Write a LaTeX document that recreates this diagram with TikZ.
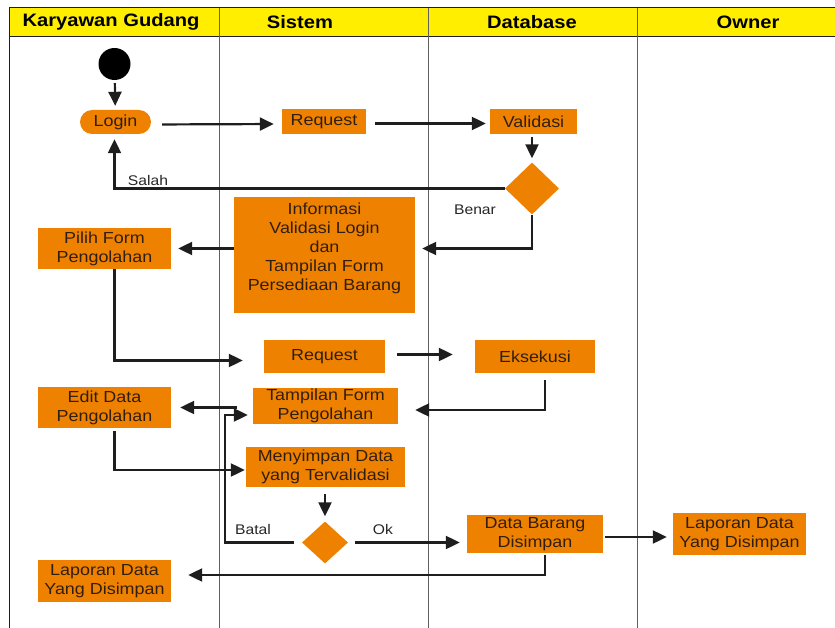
\documentclass[tikz,border=0pt]{standalone}
\usepackage{fontspec}
\setmainfont{Liberation Sans}[FakeStretch=1.12]
\usetikzlibrary{arrows.meta,shapes.geometric,calc}
\definecolor{orng}{RGB}{238,130,0}
\definecolor{hdr}{RGB}{255,238,0}
\definecolor{txtc}{RGB}{50,30,15}
\definecolor{lnc}{RGB}{30,30,30}
\definecolor{lanec}{RGB}{95,95,95}
\begin{document}
\begin{tikzpicture}[x=1pt,y=-1pt,
  box/.style={fill=orng, draw=none, text=txtc, font=\fontsize{16}{19}\selectfont, align=center, inner sep=0pt},
  dec/.style={diamond, fill=orng, draw=none, inner sep=0pt},
  flow/.style={draw=lnc, line width=2.2pt, -{Triangle[length=14pt,width=13pt]}},
  hd/.style={font=\bfseries\fontsize{18}{20}\selectfont, text=black, inner sep=0pt},
  lbl/.style={font=\fontsize{14}{16}\selectfont, text=black!85, inner sep=0pt},
  laneline/.style={draw=lanec, line width=1pt}]
\useasboundingbox (0,0) rectangle (835,628);
% header and lanes
\fill[hdr] (9,8) rectangle (835,37);
\draw[lnc, line width=1pt] (835,8) -- (9,8) -- (9,628);
\draw[lnc, line width=1pt] (9,37) -- (835,37);
\draw[laneline] (219,8) -- (219,628);
\draw[laneline] (428,8) -- (428,628);
\draw[laneline] (637,8) -- (637,628);
\node[hd] (h1) at (111,22) {Karyawan Gudang};
\node[hd] (h2) at (300,22) {Sistem};
\node[hd] (h3) at (532,22) {Database};
\node[hd] (h4) at (748,22) {Owner};
% nodes
\node[circle, fill=black, minimum size=32pt, inner sep=0pt] (start) at (114.5,64) {};
\node[box, rounded corners=12pt, minimum width=71pt, minimum height=24pt] (login) at (115.5,122) {Login};
\node[box, minimum width=84pt, minimum height=25pt] (req1) at (324,121.5) {Request};
\node[box, minimum width=87pt, minimum height=25pt] (val) at (533.5,121.5) {Validasi};
\node[dec, minimum width=54pt, minimum height=52pt] (dec1) at (532,188.5) {};
\node[box, minimum width=181pt, minimum height=116pt] (info) at (324.5,255) {Informasi\\Validasi Login\\dan\\Tampilan Form\\Persediaan Barang\\[-3pt]};
\node[box, minimum width=133pt, minimum height=41pt] (pilih) at (104.5,248.5) {Pilih Form\\Pengolahan};
\node[box, minimum width=121pt, minimum height=33pt] (req2) at (324.5,356.5) {Request};
\node[box, minimum width=120pt, minimum height=33pt] (eks) at (535,356.5) {Eksekusi};
\node[box, minimum width=145pt, minimum height=36pt] (tamp) at (325.5,406) {Tampilan Form\\Pengolahan};
\node[box, minimum width=133pt, minimum height=41pt] (edit) at (104.5,407.5) {Edit Data\\Pengolahan};
\node[box, minimum width=159pt, minimum height=40pt] (mny) at (325.5,467) {Menyimpan Data\\yang Tervalidasi};
\node[dec, minimum width=46pt, minimum height=42pt] (dec2) at (325,542.5) {};
\node[box, minimum width=136pt, minimum height=38pt] (datab) at (535,534) {Data Barang\\Disimpan};
\node[box, minimum width=133pt, minimum height=42pt] (lap2) at (739.5,534) {Laporan Data\\Yang Disimpan};
\node[box, minimum width=133pt, minimum height=42pt] (lap1) at (104.5,581) {Laporan Data\\Yang Disimpan};
% labels
\node[lbl] (salah) at (148,180) {Salah};
\node[lbl] (benar) at (475,210) {Benar};
\node[lbl] (batal) at (253,529) {Batal};
\node[lbl] (ok) at (383,529) {Ok};
% connectors
\draw[flow, shorten <=3pt, shorten >=4pt] (start) -- (login);
\draw[flow, shorten <=11pt, shorten >=8pt] ([yshift=-2.5pt]login.east) -- ([yshift=-2.5pt]req1.west);
\draw[flow, shorten <=9pt, shorten >=4pt] ([yshift=-2pt]req1.east) -- ([yshift=-2pt]val.west);
\draw[flow, shorten <=3pt, shorten >=4pt] (val.south -| dec1.north) -- (dec1.north);
\draw[flow, shorten >=5pt] (dec1.west) -| ([xshift=-1pt]login.south);
\draw[flow, shorten >=7pt] (dec1.south) |- (pilih.east -| info.east);
\draw[flow, shorten >=7pt] (info.west |- pilih.east) -- (pilih.east);
\draw[flow, shorten >=21pt] ([xshift=10pt]pilih.south) |- ([yshift=-4pt]req2.west);
\draw[flow, shorten <=12pt, shorten >=22pt] ([yshift=2pt]req2.east) -- ([yshift=2pt]eks.west);
\draw[flow, shorten <=7pt, shorten >=17pt] ([xshift=10pt]eks.south) |- ([yshift=-4pt]tamp.east);
\draw[flow, shorten <=16pt, shorten >=9pt] (tamp.west |- edit.east) -- (edit.east);
\draw[flow, shorten <=3pt, shorten >=1pt] ([xshift=10pt]edit.south) |- ([yshift=-3pt]mny.west);
\draw[flow, shorten <=7pt, shorten >=5pt] (mny.south -| dec2.north) -- (dec2.north);
\draw[flow, shorten <=8pt, shorten >=5pt] (dec2.west) -- ++(-76.5,0) |- ([yshift=-9pt]tamp.west);
\draw[flow, shorten <=7pt, shorten >=7pt] (dec2.east) -- (dec2.east -| datab.west);
\draw[flow, shorten <=2pt, shorten >=6pt] ([yshift=-3pt]datab.east) -- ([yshift=-3pt]lap2.west);
\draw[flow, shorten <=2pt, shorten >=17pt] ([xshift=10pt]datab.south) |- ([yshift=6pt]lap1.east);
\end{tikzpicture}
\end{document}
